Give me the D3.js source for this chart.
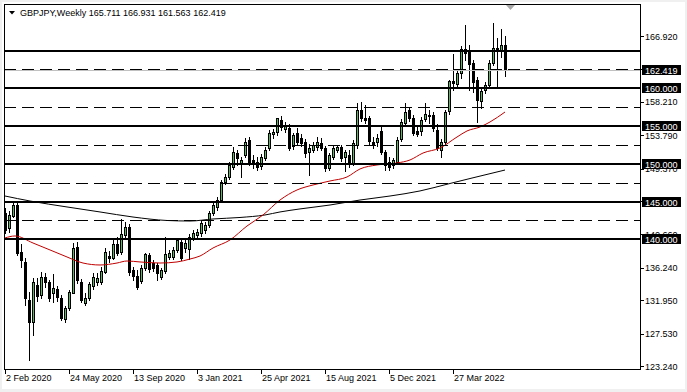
<!DOCTYPE html>
<html>
<head>
<meta charset="utf-8">
<script src="https://cdn.jsdelivr.net/npm/d3@7"></script>
<style>
  body { margin: 0; background: #fff; }
  svg text { font-family: "Liberation Sans", Arial, sans-serif; font-size: 9px; }
</style>
</head>
<body>
<svg id="chart" width="687" height="392"></svg>
<script>
// GBPJPY weekly, one bar per week starting 2 Feb 2020
const opens = [143.5,141.5,143.2,144.6,138.3,137.0,132.0,129.1,134.0,132.6,135.0,134.4,132.9,133.4,132.3,129.4,130.9,133.0,139.0,134.4,
  131.7,132.2,133.8,134.4,134.4,135.7,137.8,137.6,139.4,138.3,140.6,141.6,136.0,135.2,134.5,136.1,137.9,136.9,136.6,135.0,
  135.7,137.7,137.7,138.6,139.6,138.9,138.7,140.1,140.6,140.9,141.2,141.9,143.5,144.3,145.2,147.6,148.3,149.6,151.4,150.1,
  151.2,153.2,150.5,150.2,149.7,150.8,152.1,154.0,154.1,155.8,154.6,154.7,152.3,154.1,153.4,152.9,151.6,151.8,152.2,152.8,
  152.1,149.45,150.9,151.8,152.2,150.9,151.2,150.2,152.5,157.1,156.1,156.0,152.9,152.9,154.4,151.6,150.2,149.9,150.3,153.2,
  155.5,157.1,156.1,154.4,154.3,156.0,156.5,156.4,154.5,151.8,152.9,156.9,160.9,160.6,162.0,165.2,165.0,163.3,161.1,158.4,
  159.7,160.4,163.3,165.3,164.9,165.711];
const highs = [144.2,143.8,145.1,145.1,139.4,137.6,133.0,134.9,134.9,135.7,135.5,134.6,135.4,133.8,132.6,131.2,133.3,139.5,139.7,134.8,
  132.9,134.4,135.5,135.5,136.4,138.9,138.5,140.0,140.3,142.7,142.3,142.0,136.4,135.9,136.6,138.2,138.2,137.3,136.9,136.2,
  140.3,138.6,139.0,140.1,140.1,139.9,140.7,141.3,141.4,142.6,142.3,143.8,144.8,145.6,147.9,148.7,150.3,152.2,151.8,150.9,
  153.4,153.6,151.2,150.9,151.3,152.2,154.5,154.6,156.1,156.3,155.6,155.3,154.1,154.7,153.9,153.3,152.6,152.9,153.6,153.4,
  152.4,151.4,152.3,152.5,152.5,151.8,151.8,153.2,158.1,158.2,157.8,156.3,153.6,154.0,155.1,151.8,150.9,150.8,153.6,155.9,
  158.05,157.5,156.5,154.9,156.2,158.05,157.1,156.9,155.3,153.3,157.1,161.1,164.6,162.4,165.6,168.4,165.7,163.7,161.5,160.2,
  160.8,163.7,168.7,166.7,167.8,166.931];
const lows = [140.9,141.0,142.9,137.9,136.4,131.3,124.0,127.3,131.9,132.2,133.7,131.9,131.7,131.9,129.3,129.0,130.6,132.9,134.2,131.7,
  131.3,132.0,133.4,134.0,134.1,135.5,137.0,137.4,137.9,138.1,140.3,135.3,134.6,133.4,134.2,135.9,135.7,135.8,134.6,134.8,
  135.6,137.4,137.4,138.3,137.3,138.3,137.4,139.9,140.3,140.5,140.9,141.6,143.2,143.9,144.9,147.3,148.0,149.3,149.8,148.3,
  150.9,149.85,149.45,149.2,149.3,150.5,151.8,153.4,153.8,154.5,154.2,151.8,152.0,152.5,152.4,150.9,148.5,151.5,151.8,151.8,
  149.05,149.2,150.6,151.5,150.4,149.0,149.6,149.85,152.1,155.7,155.4,152.6,152.1,152.4,151.3,149.2,149.2,149.45,150.0,153.0,
  155.3,155.7,153.8,153.7,153.8,155.7,155.4,154.3,151.8,150.9,152.6,156.6,159.8,160.0,161.3,163.7,159.8,159.5,155.5,157.4,
  159.4,160.2,163.1,160.2,164.1,161.563];
const closes = [141.2,143.2,144.6,138.3,137.3,132.2,129.1,134.4,132.6,135.0,134.4,132.3,133.6,132.3,129.6,130.9,133.0,138.9,134.6,132.0,
  132.3,134.1,135.0,134.9,135.8,138.3,137.5,139.4,138.2,140.7,141.6,135.6,135.2,133.7,136.2,138.0,136.1,136.2,135.6,135.9,
  138.0,138.2,138.6,139.9,137.5,139.5,140.3,140.9,141.0,142.2,141.9,143.5,144.55,145.2,147.6,148.3,149.9,151.6,150.8,150.5,
  152.9,150.1,150.1,149.6,150.9,151.8,154.1,154.2,156.0,154.9,155.1,152.1,153.8,152.9,152.8,151.4,152.1,152.5,152.9,152.2,
  149.45,151.2,152.1,152.2,150.8,151.6,150.2,152.8,157.1,156.1,155.8,152.9,152.7,153.4,151.6,149.85,149.6,150.5,153.2,155.5,
  156.9,156.1,154.1,154.0,155.8,156.6,156.4,154.7,152.1,152.9,156.9,160.9,160.6,162.0,165.2,164.7,163.3,160.8,158.4,159.7,
  160.4,163.3,165.3,164.9,165.7,162.419];

// moving averages: [bar index, price]
const fastMA = [[0,140.19],[2.5,140.45],[7,139.52],[11.25,138.6],[15.5,137.67],[19.5,136.87],[23.75,136.61],[28,136.87],[30.5,137.14],
  [33.75,137.01],[38.75,136.87],[43,137.01],[46.25,137.4],[48.75,137.8],[52,138.86],[56.25,139.92],[60.5,141.77],[64.5,143.23],
  [68.75,145.21],[73,146.54],[77,147.2],[81.25,147.73],[85.5,148.26],[88.75,149.32],[93,149.85],[98,150.11],[101.25,150.51],
  [104.5,151.43],[108.75,152.1],[113,153.55],[115.5,154.35],[118.75,154.88],[121.25,155.54],[125,156.86]];
const slowMA = [[0,145.74],[6.25,145.08],[15.5,144.29],[23.75,143.63],[32,142.96],[40.5,142.5],[46.25,142.43],[52,142.7],
  [58.75,142.9],[65,143.23],[68.75,143.63],[73.75,144.03],[81.25,144.55],[88.75,145.21],[96.25,145.74],[103.75,146.41],
  [111.25,147.4],[116.75,148.12],[125,149.18]];

// horizontal levels
const solidLevels = [165, 160, 155, 150, 145, 140];
const dashedLevels = [162.5, 157.5, 152.5, 147.5, 142.5];
const labelledLevels = [160, 155, 150, 145, 140];
const bid = 162.419;

// axis labels
const priceTicks = [166.920, 162.570, 158.210, 153.790, 149.370, 145.020, 140.660, 136.240, 131.950, 127.530, 123.240];
const dateTickBars = [0, 16, 32, 48, 64, 80, 96, 112];
const dateTickLabels = ['2 Feb 2020', '24 May 2020', '13 Sep 2020', '3 Jan 2021', '25 Apr 2021', '15 Aug 2021', '5 Dec 2021', '27 Mar 2022'];

const header = 'GBPJPY,Weekly  165.711 166.931 161.563 162.419';

const svg = d3.select('#chart');
const plotLeft = 4, plotRight = 640, plotTop = 4, plotBottom = 369;

const x = d3.scaleLinear().domain([0, 1]).range([5, 9]);
const y = d3.scaleLinear().domain([123.24, 166.92]).range([366, 36]);

// window frame
svg.append('rect').attr('width', 687).attr('height', 392).attr('fill', '#f0f0f0');
svg.append('rect').attr('x', 2).attr('y', 2).attr('width', 683).attr('height', 387).attr('fill', '#fff');

svg.append('defs').append('clipPath').attr('id', 'plot')
  .append('rect').attr('x', plotLeft).attr('y', plotTop).attr('width', plotRight - plotLeft).attr('height', plotBottom - plotTop);

const plot = svg.append('g').attr('clip-path', 'url(#plot)');

// candles
const bars = d3.range(opens.length);
const candle = plot.append('g').selectAll('g').data(bars).join('g');

candle.append('line')
  .attr('x1', i => x(i) + 0.5).attr('x2', i => x(i) + 0.5)
  .attr('y1', i => Math.round(y(highs[i]))).attr('y2', i => Math.round(y(lows[i])) + 1)
  .attr('stroke', '#000').attr('stroke-width', 1);

candle.append('rect')
  .attr('x', i => x(i) - 0.5)
  .attr('y', i => Math.round(y(Math.max(opens[i], closes[i]))) + 0.5)
  .attr('width', 2)
  .attr('height', i => Math.max(1, Math.round(Math.abs(y(opens[i]) - y(closes[i])))))
  .attr('fill', i => closes[i] >= opens[i] ? '#5cb85c' : '#000')
  .attr('stroke', '#000').attr('stroke-width', 1)
  .attr('shape-rendering', 'crispEdges');

// moving averages
const maLine = d3.line().curve(d3.curveMonotoneX)
  .x(d => x(d[0]))
  .y(d => y(d[1]));

plot.append('path').datum(slowMA).attr('d', maLine)
  .attr('fill', 'none').attr('stroke', '#000').attr('stroke-width', 1);
plot.append('path').datum(fastMA).attr('d', maLine)
  .attr('fill', 'none').attr('stroke', '#c00000').attr('stroke-width', 1);

// levels
plot.append('line')
  .attr('x1', plotLeft).attr('x2', plotRight)
  .attr('y1', Math.round(y(bid)) + 0.5).attr('y2', Math.round(y(bid)) + 0.5)
  .attr('stroke', '#c0c0c0');

plot.selectAll('line.dash').data(dashedLevels).join('line')
  .attr('class', 'dash')
  .attr('x1', plotLeft).attr('x2', plotRight)
  .attr('y1', d => Math.round(y(d)) + 0.5).attr('y2', d => Math.round(y(d)) + 0.5)
  .attr('stroke', '#000').attr('stroke-dasharray', '12,6');

plot.selectAll('line.solid').data(solidLevels).join('line')
  .attr('class', 'solid')
  .attr('x1', plotLeft).attr('x2', plotRight)
  .attr('y1', d => Math.round(y(d))).attr('y2', d => Math.round(y(d)))
  .attr('stroke', '#000').attr('stroke-width', 2);

// frame
svg.append('rect')
  .attr('x', plotLeft + 0.5).attr('y', plotTop + 0.5)
  .attr('width', plotRight - plotLeft).attr('height', plotBottom - plotTop)
  .attr('fill', 'none').attr('stroke', '#000');

// chart shift marker
svg.append('path').attr('d', 'M506,5L515,5L510.5,10Z').attr('fill', '#a8a8a8');

// header
svg.append('path').attr('d', 'M9,11L15,11L12,14.5Z').attr('fill', '#000');
svg.append('text').attr('x', 20).attr('y', 16).attr('fill', '#000').text(header);

// price axis
const yAxis = svg.append('g');
yAxis.selectAll('line').data(priceTicks).join('line')
  .attr('x1', plotRight).attr('x2', plotRight + 4)
  .attr('y1', d => Math.round(y(d)) + 0.5).attr('y2', d => Math.round(y(d)) + 0.5)
  .attr('stroke', '#000');
yAxis.selectAll('text').data(priceTicks).join('text')
  .attr('x', plotRight + 5).attr('y', d => y(d) + 3.5)
  .attr('fill', '#000')
  .text(d => d.toFixed(3));

// price labels with black boxes
const boxes = svg.append('g').selectAll('g').data(labelledLevels.concat([bid])).join('g')
  .attr('transform', d => 'translate(' + (plotRight + 2) + ',' + Math.round(y(d)) + ')');
boxes.append('rect').attr('x', 0).attr('y', -5).attr('width', 39).attr('height', 10).attr('fill', '#000');
boxes.append('text').attr('x', 3).attr('y', 3.5).attr('fill', '#fff').text(d => d.toFixed(3));

// time axis
const xAxis = svg.append('g');
xAxis.selectAll('line').data(dateTickBars).join('line')
  .attr('x1', d => x(d) + 0.5).attr('x2', d => x(d) + 0.5)
  .attr('y1', plotBottom).attr('y2', plotBottom + 5)
  .attr('stroke', '#000');
xAxis.selectAll('text').data(dateTickBars).join('text')
  .attr('x', d => x(d) + 1).attr('y', 381)
  .attr('fill', '#000')
  .text((d, i) => dateTickLabels[i]);
</script>
</body>
</html>
